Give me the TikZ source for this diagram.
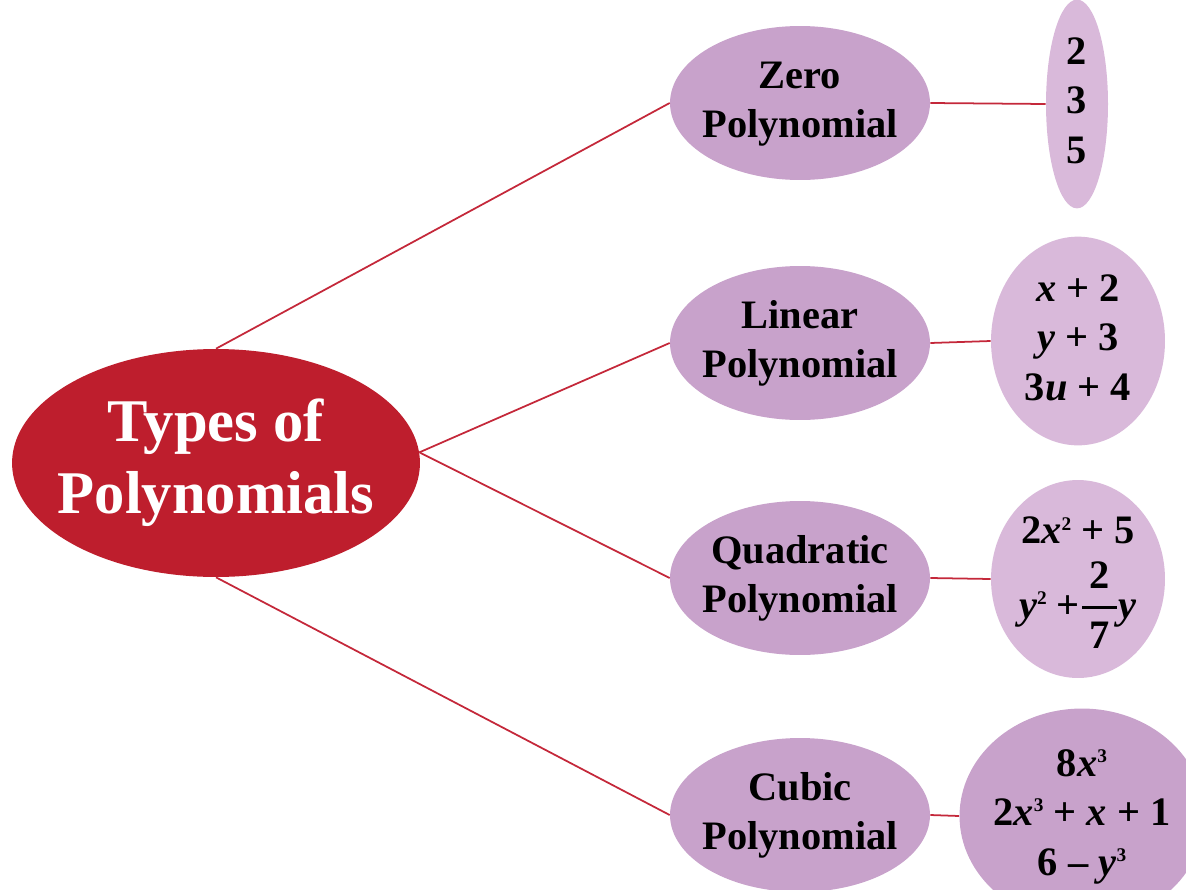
\documentclass[tikz,border=0pt]{standalone}
\usepackage{fontspec}
\setmainfont{Liberation Serif}
\usetikzlibrary{shapes.geometric}
\definecolor{granate}{HTML}{BE1E2D}
\definecolor{lila}{HTML}{C8A2CB}
\definecolor{lilaclaro}{HTML}{D9B9DA}
\definecolor{trazo}{HTML}{C4283A}
\newcommand{\centro}[1]{\makebox[0pt]{\begin{tabular}{@{}c@{}}#1\end{tabular}}}
\newcommand{\va}[1]{\textit{#1}}
\newcommand{\pot}[1]{\raisebox{0.75ex}{\fontsize{11}{11}\selectfont #1}}
\newcommand{\quebrado}[2]{${\displaystyle{\,\textbf{#1}\,\above 1.3pt\,\textbf{#2}\,}}$}
\tikzset{
  raiz/.style={ellipse, fill=granate, text=white, inner sep=0pt,
               minimum width=8.16cm, minimum height=4.56cm,
               font=\fontsize{34.5}{41}\selectfont\bfseries},
  tipo/.style={ellipse, fill=lila, inner sep=0pt,
               minimum width=5.2cm, minimum height=3.08cm,
               font=\fontsize{23}{28}\selectfont\bfseries},
  ejemplo/.style={ellipse, fill=lilaclaro, inner sep=0pt,
               font=\fontsize{23}{28}\selectfont\bfseries},
  rama/.style={draw=trazo, line width=1pt}
}
\begin{document}
\begin{tikzpicture}[x=0.02cm, y=-0.02cm]
  \useasboundingbox (0,0) rectangle (1186,889);
  % centro
  \node[raiz] (tipos) at (216,463) {\centro{Types of\\Polynomials}};
  % tipos
  \foreach \i/\y/\t in {cero/103/Zero, lineal/343/Linear,
                        cuad/578/Quadratic, cubico/815/Cubic} {
    \node[tipo] (\i) at (800,\y) {\centro{\t\\Polynomial}};
  }
  % ejemplos
  \node[ejemplo, minimum width=1.24cm, minimum height=3.96cm] (ejcero) at (1077,104)
    {\centro{2\\3\\5}};
  \node[ejemplo, minimum width=3.48cm, minimum height=3.96cm] (ejlineal) at (1078,341)
    {\centro{\va{x} + 2\\\va{y} + 3\\3\va{u} + 4}};
  \node[ejemplo, minimum width=3.48cm, minimum height=3.96cm] (ejcuad) at (1078,579)
    {\centro{2\va{x}\pot{2} + 5\\[2pt]\va{y}\pot{2} +\quebrado{2}{7}\va{y}}};
  \node[ejemplo, fill=lila, minimum width=4.9cm, minimum height=4.3cm] (ejcubico) at (1082,816)
    {\centro{8\va{x}\pot{3}\\2\va{x}\pot{3} + \va{x} + 1\\6 – \va{y}\pot{3}}};
  % ramas
  \draw[rama] (tipos.north) -- (cero.west);
  \draw[rama] (tipos.3) -- (lineal.west);
  \draw[rama] (tipos.3) -- (cuad.west);
  \draw[rama] (tipos.south) -- (cubico.west);
  \foreach \i in {cero, lineal, cuad, cubico} {
    \draw[rama] (\i.east) -- (ej\i.west);
  }
\end{tikzpicture}
\end{document}
